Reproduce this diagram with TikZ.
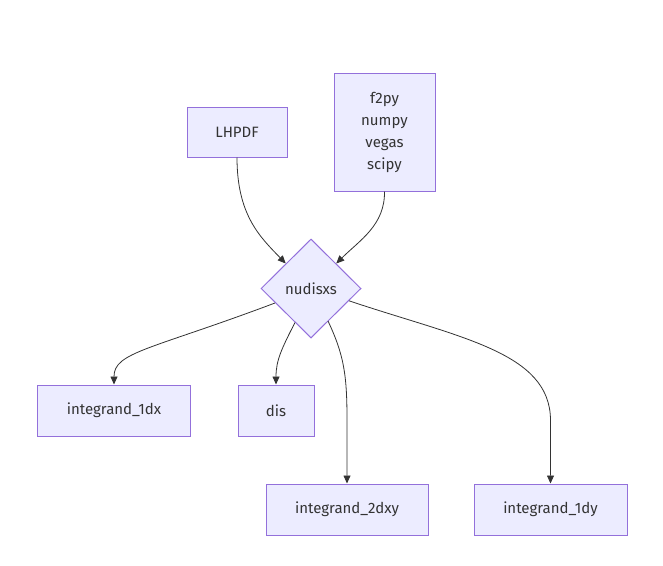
\documentclass[tikz,border=0pt]{standalone}
\usepackage{fontspec}
\setmainfont{Fira Sans}
\usetikzlibrary{shapes.geometric,arrows.meta}
\definecolor{nodefill}{HTML}{ECECFF}
\definecolor{nodeline}{HTML}{9370DB}
\definecolor{edgecol}{HTML}{333333}
\definecolor{textcol}{HTML}{333333}
\tikzset{
  box/.style={draw=nodeline, fill=nodefill, line width=1pt, rectangle, inner sep=0pt, text=textcol, font=\fontsize{15}{22}\selectfont, align=center},
  dia/.style={draw=nodeline, fill=nodefill, line width=1pt, diamond, inner sep=0pt, minimum width=100pt, minimum height=99pt, text=textcol, font=\fontsize{15}{22}\selectfont},
  edge/.style={draw=edgecol, line width=0.8pt, -{Triangle[length=8pt,width=7pt]}}
}
\begin{document}
\begin{tikzpicture}[x=1pt,y=-1pt]
\useasboundingbox (0,0) rectangle (663,565);
\node[box, minimum width=100pt, minimum height=50pt] (lh) at (237,132) {LHPDF};
\node[box, minimum width=101pt, minimum height=118pt] (libs) at (384.5,132) {f2py\\numpy\\vegas\\scipy};
\node[dia] (d) at (311,288.5) {nudisxs};
\node[box, minimum width=153pt, minimum height=51pt] (i1dx) at (114,410.5) {integrand\_1dx};
\node[box, minimum width=76pt, minimum height=51pt] (dis) at (276,410.5) {dis};
\node[box, minimum width=162pt, minimum height=51pt] (i2dxy) at (347,509.5) {integrand\_2dxy};
\node[box, minimum width=153pt, minimum height=51pt] (i1dy) at (550.5,509.5) {integrand\_1dy};
\coordinate (s1) at (275,303);
\coordinate (s2) at (295,322.5);
\coordinate (s3) at (328,321);
\coordinate (s4) at (349,300.8);
\draw[edge] (lh.south) .. controls (237,215) and (260,237) .. (d.north west);
\draw[edge] (libs.south) .. controls (385,225) and (360,240) .. (d.north east);
\draw[edge] (s1) .. controls (150,350) and (114,352) .. (i1dx.north);
\draw[edge] (s2) .. controls (282,348) and (276,360) .. (dis.north);
\draw[edge] (s3) .. controls (344,355) and (347,375) .. (347,420) -- (i2dxy.north);
\draw[edge] (s4) .. controls (460,338) and (550,352) .. (550.5,420) -- (i1dy.north);
\end{tikzpicture}
\end{document}
